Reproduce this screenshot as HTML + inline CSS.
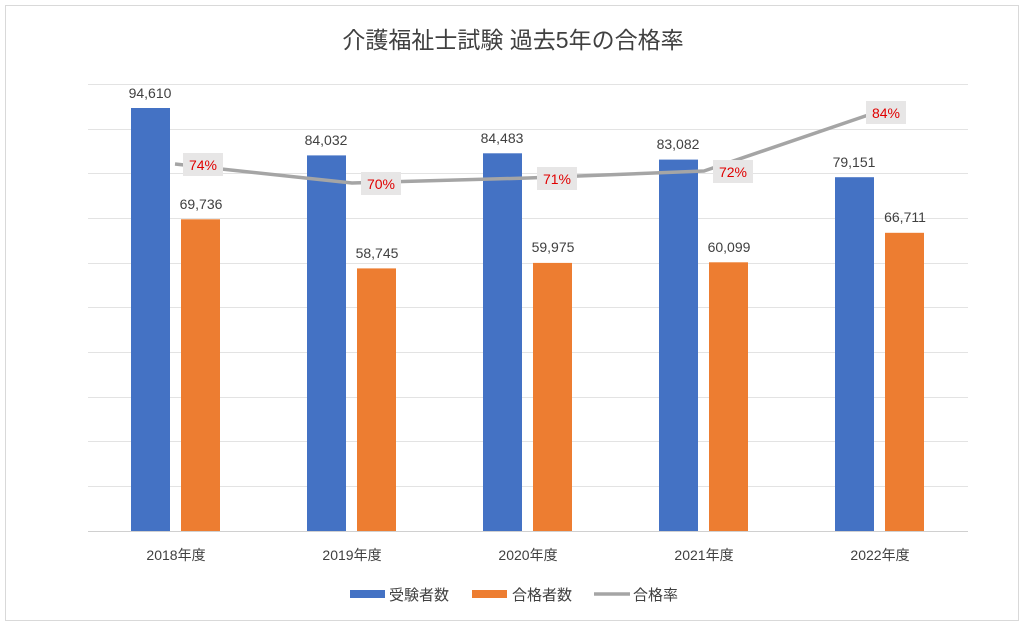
<!DOCTYPE html>
<html><head><meta charset="utf-8"><style>
body{margin:0;background:#fff}
svg{display:block;font-family:"Liberation Sans","Noto Sans CJK JP",sans-serif}
</style></head><body>
<svg width="1024" height="627" viewBox="0 0 1024 627">
<rect x="0" y="0" width="1024" height="627" fill="#fff"/>
<rect x="5.5" y="5.5" width="1013" height="615" fill="#fff" stroke="#d9d9d9"/>
<text x="513" y="48" text-anchor="middle" font-size="23" fill="#404040">介護福祉士試験 過去5年の合格率</text>
<g stroke="#e3e3e3" stroke-width="1">
<line x1="88" x2="968" y1="84.5" y2="84.5"/><line x1="88" x2="968" y1="129.5" y2="129.5"/>
<line x1="88" x2="968" y1="173.5" y2="173.5"/><line x1="88" x2="968" y1="218.5" y2="218.5"/>
<line x1="88" x2="968" y1="263.5" y2="263.5"/><line x1="88" x2="968" y1="307.5" y2="307.5"/>
<line x1="88" x2="968" y1="352.5" y2="352.5"/><line x1="88" x2="968" y1="397.5" y2="397.5"/>
<line x1="88" x2="968" y1="441.5" y2="441.5"/><line x1="88" x2="968" y1="486.5" y2="486.5"/>
<line x1="88" x2="968" y1="531.5" y2="531.5" stroke="#d0d0d0"/>
</g>
<g fill="#4472c4">
<rect x="131" y="108" width="39" height="423"/>
<rect x="307" y="155.4" width="39" height="375.6"/>
<rect x="483" y="153.3" width="39" height="377.7"/>
<rect x="659" y="159.6" width="39" height="371.4"/>
<rect x="835" y="177.2" width="39" height="353.8"/>
</g>
<g fill="#ed7d31">
<rect x="181" y="219.3" width="39" height="311.7"/>
<rect x="357" y="268.4" width="39" height="262.6"/>
<rect x="533" y="262.9" width="39" height="268.1"/>
<rect x="709" y="262.3" width="39" height="268.7"/>
<rect x="885" y="232.8" width="39" height="298.2"/>
</g>
<g font-size="14" fill="#404040" text-anchor="middle">
<text x="150" y="98">94,610</text><text x="201" y="209">69,736</text>
<text x="326" y="145">84,032</text><text x="377" y="258">58,745</text>
<text x="502" y="143">84,483</text><text x="553" y="252">59,975</text>
<text x="678" y="149">83,082</text><text x="729" y="252">60,099</text>
<text x="854" y="167">79,151</text><text x="905" y="222">66,711</text>
</g>
<polyline points="175,164 352,183 528,178 704,171 880,111" fill="none" stroke="#a5a5a5" stroke-width="3.5" stroke-linejoin="round"/>
<g fill="#e7e6e6">
<rect x="183" y="153" width="40" height="23"/>
<rect x="361" y="172" width="40" height="23"/>
<rect x="537" y="167" width="40" height="23"/>
<rect x="713" y="160" width="40" height="23"/>
<rect x="866" y="101" width="40" height="23"/>
</g>
<g font-size="14" fill="#e00000" text-anchor="middle">
<text x="203" y="170">74%</text>
<text x="381" y="189">70%</text>
<text x="557" y="184">71%</text>
<text x="733" y="177">72%</text>
<text x="886" y="118">84%</text>
</g>
<g font-size="14" fill="#404040" text-anchor="middle">
<text x="176" y="560">2018年度</text>
<text x="352" y="560">2019年度</text>
<text x="528" y="560">2020年度</text>
<text x="704" y="560">2021年度</text>
<text x="880" y="560">2022年度</text>
</g>
<rect x="350" y="590" width="35" height="8" fill="#4472c4"/>
<text x="389" y="600" font-size="15" fill="#404040">受験者数</text>
<rect x="472" y="590" width="35" height="8" fill="#ed7d31"/>
<text x="512" y="600" font-size="15" fill="#404040">合格者数</text>
<line x1="594" x2="630" y1="594" y2="594" stroke="#a5a5a5" stroke-width="3.5"/>
<text x="633" y="600" font-size="15" fill="#404040">合格率</text>
</svg>
</body></html>
